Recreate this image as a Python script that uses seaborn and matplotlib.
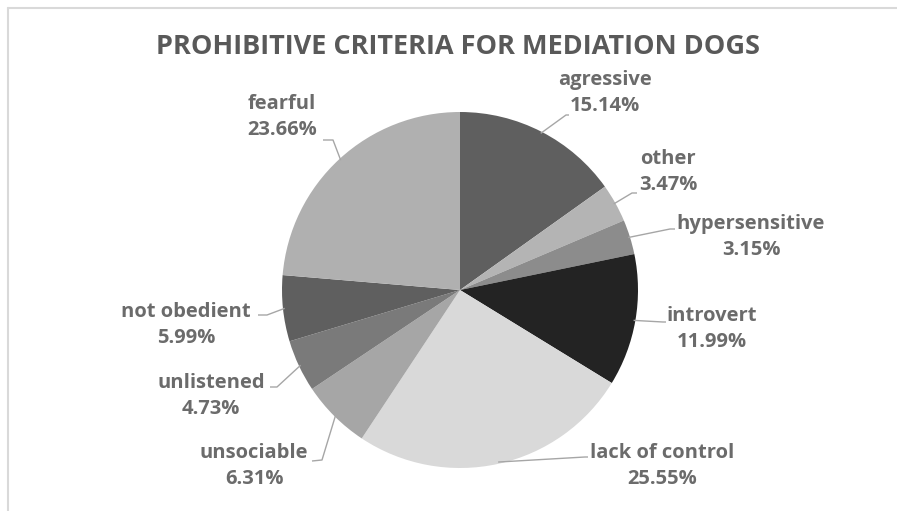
import numpy as np
import matplotlib.pyplot as plt
import seaborn as sns
from matplotlib.lines import Line2D

sns.set_style("white")
plt.rcParams['font.family'] = ['Open Sans', 'DejaVu Sans']

# dados
categorias = ['agressive', 'other', 'hypersensitive', 'introvert', 'lack of control',
              'unsociable', 'unlistened', 'not obedient', 'fearful']
percentuais = [15.14, 3.47, 3.15, 11.99, 25.55, 6.31, 4.73, 5.99, 23.66]
cores = ['#5f5f5f', '#b4b4b4', '#8c8c8c', '#232323', '#d9d9d9',
         '#a6a6a6', '#7a7a7a', '#5f5f5f', '#b0b0b0']
titulo = 'PROHIBITIVE CRITERIA FOR MEDIATION DOGS'
cor_texto = '#6b6b6b'

# geometria em pixels (figura 897x511)
W, H = 897, 511
cx, cy, R = 460, 290, 178

def px(x, y):
    return (x - cx) / R, (cy - y) / R

# posição dos rótulos (centro do bloco de texto) e linha guia, em pixels
rotulo_pos = [(605, 93), (668, 172), (751, 237), (712, 329), (662, 466),
              (254, 466), (211, 396), (186, 325), (282, 117)]
cotovelo = [(566, 115), (632, 193), (670, 229), (663, 322), (585, 457),
            (322, 460), (277, 387), (267, 315), (333, 140)]
ponta = [(569, 115), (637, 193), (675, 229), (666, 322), (588, 457),
         (312, 461), (270, 387), (258, 315), (323, 140)]

fig = plt.figure(figsize=(W / 100, H / 100), dpi=100)
ax = fig.add_axes([0, 0, 1, 1])

wedges, _ = ax.pie(percentuais, colors=cores, startangle=90, counterclock=False,
                   radius=1, center=(0, 0), wedgeprops=dict(linewidth=0))

ax.set_xlim(-cx / R, (W - cx) / R)
ax.set_ylim(-(H - cy) / R, cy / R)
ax.set_aspect('equal')
ax.axis('off')

for w, cat, val, pos, cot, pt in zip(wedges, categorias, percentuais,
                                      rotulo_pos, cotovelo, ponta):
    ang = np.deg2rad((w.theta1 + w.theta2) / 2)
    x0, y0 = np.cos(ang) * 0.99, np.sin(ang) * 0.99
    x1, y1 = px(*cot)
    x2, y2 = px(*pt)
    ax.plot([x0, x1, x2], [y0, y1, y2], color='#a6a6a6', lw=1, solid_capstyle='butt')
    tx, ty = px(*pos)
    ax.text(tx, ty, f'{cat}\n{val:.2f}%', ha='center', va='center', fontsize=14.5,
            fontweight='bold', color=cor_texto, linespacing=1.45)

fig.text(458 / W, 1 - 47 / H, titulo, ha='center', va='center', fontsize=19.5,
         fontweight='bold', color='#595959')

# borda do gráfico (esquerda e topo)
fig.add_artist(Line2D([8 / W, 8 / W], [0, 1 - 8 / H], color='#d9d9d9', lw=1.5,
                      transform=fig.transFigure))
fig.add_artist(Line2D([8 / W, 1], [1 - 8 / H, 1 - 8 / H], color='#d9d9d9', lw=1.5,
                      transform=fig.transFigure))

plt.savefig('out.png', dpi=100, facecolor='white')
